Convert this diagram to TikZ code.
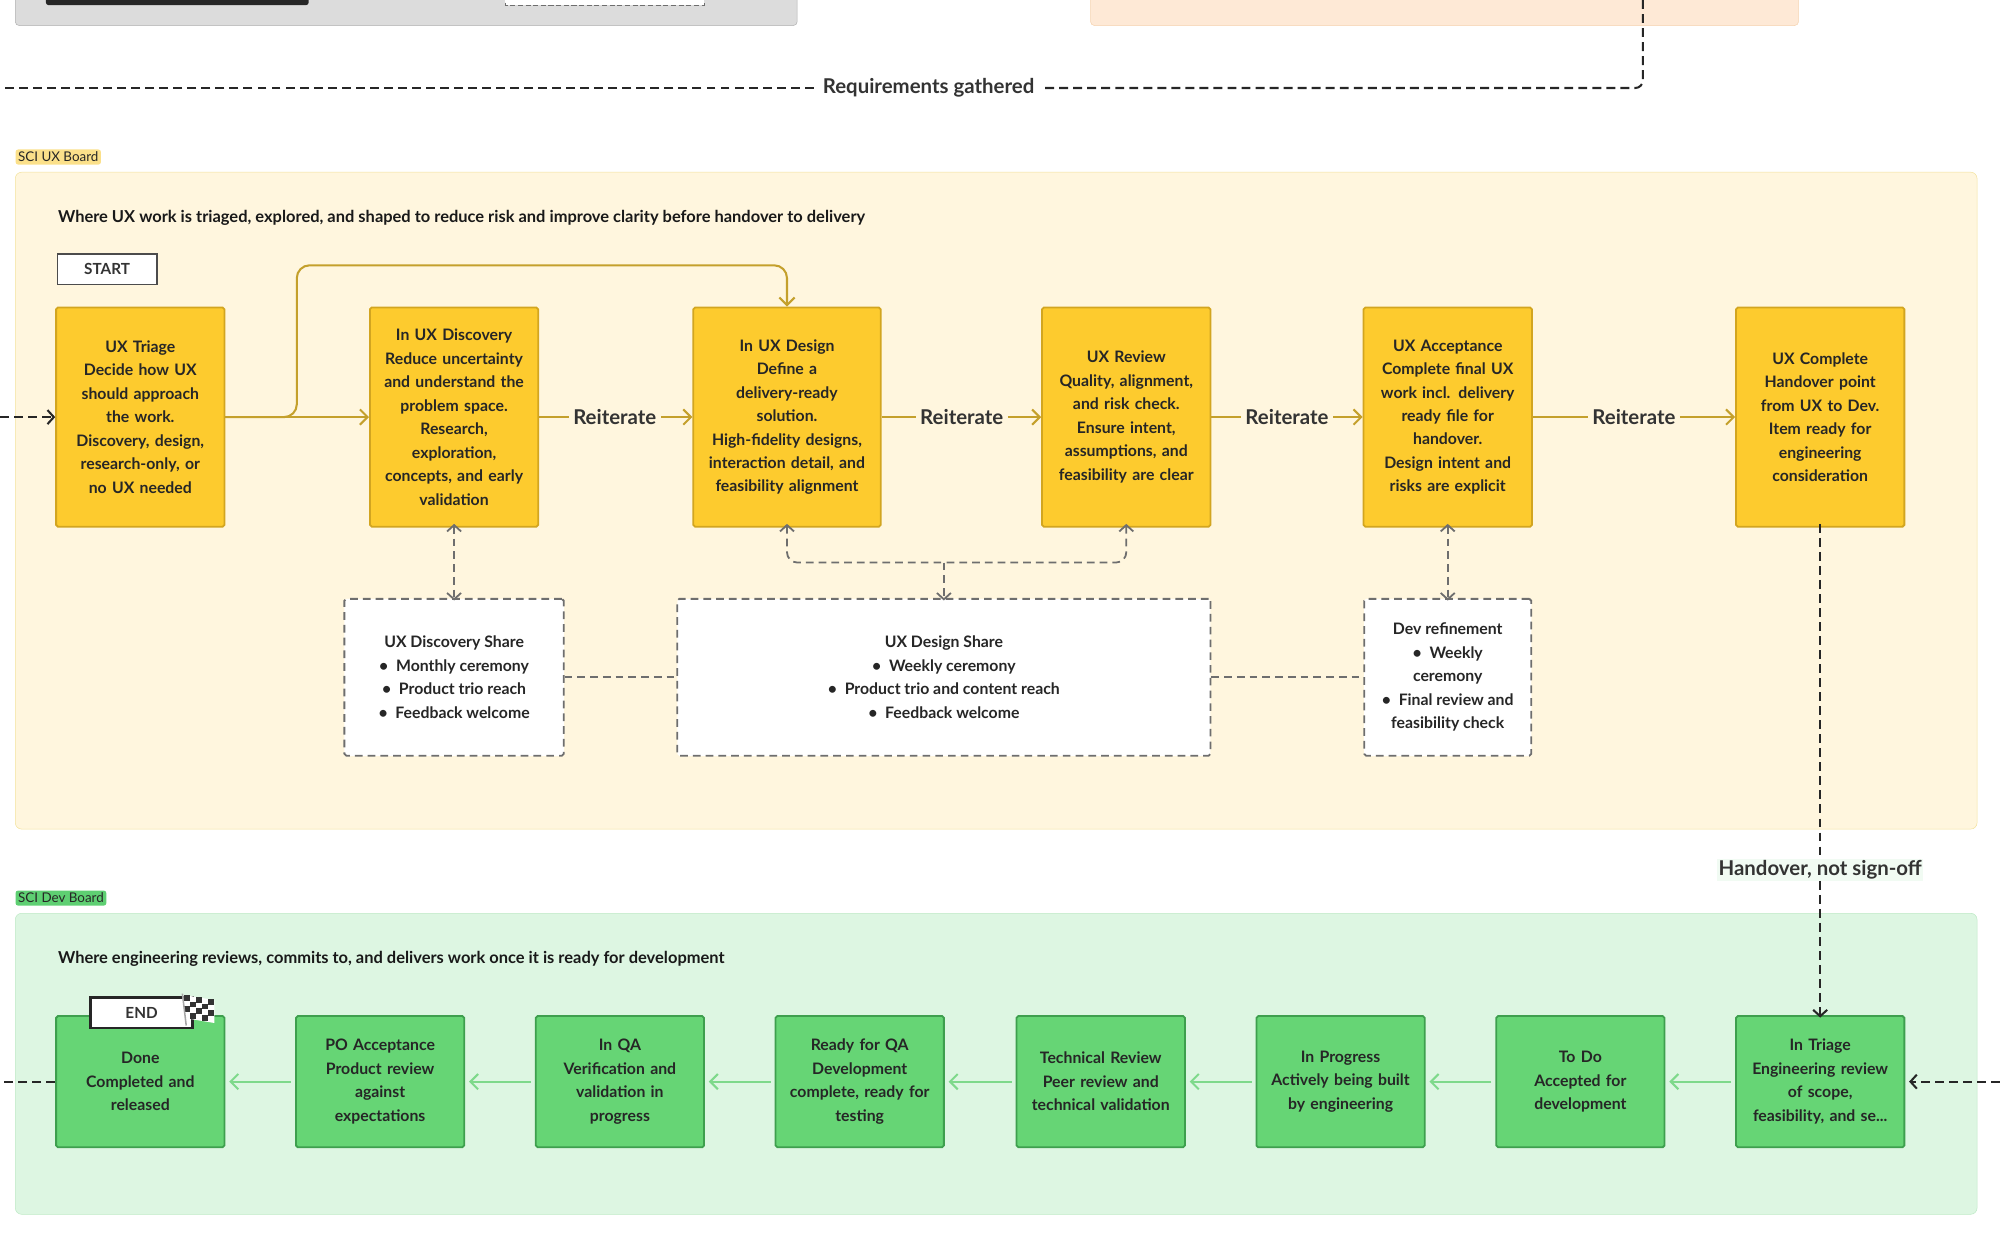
\documentclass[tikz,border=0pt]{standalone}
\usepackage{fontspec}
\setmainfont{Lato}
\usetikzlibrary{positioning}
\usetikzlibrary{arrows.meta}
\definecolor{uxfill}{HTML}{FDCB2E}
\definecolor{uxline}{HTML}{D2A520}
\definecolor{uxarrow}{HTML}{C4A02C}
\definecolor{uxpanel}{HTML}{FFF6DE}
\definecolor{uxpanelline}{HTML}{F3E29C}
\definecolor{uxtag}{HTML}{FBE08A}
\definecolor{devfill}{HTML}{66D575}
\definecolor{devline}{HTML}{3E9F4E}
\definecolor{devarrow}{HTML}{7ED98B}
\definecolor{devpanel}{HTML}{DDF6E2}
\definecolor{devpanelline}{HTML}{BDE9C5}
\definecolor{devtag}{HTML}{5ECF72}
\definecolor{greybox}{HTML}{DCDCDC}
\definecolor{peach}{HTML}{FEE9D6}
\definecolor{peachline}{HTML}{F5D2AE}
\definecolor{sharegrey}{HTML}{6E6E6E}

\begin{document}
\begin{tikzpicture}
[x=1pt,y=-1pt,
 font=\fontsize{12.4pt}{18.4pt}\selectfont\bfseries,
 ux/.style={shape=rectangle,draw=uxline,line width=1.4pt,fill=uxfill,rounded corners=1.5pt,
   minimum width=132pt,minimum height=172pt,text width=125pt,align=center,text=black!85},
 dev/.style={shape=rectangle,draw=devline,line width=1.4pt,fill=devfill,rounded corners=1.5pt,
   minimum width=132pt,minimum height=103pt,text width=125pt,align=center,text=black!85},
 share/.style={shape=rectangle,draw=sharegrey,line width=1.4pt,dash pattern=on 6pt off 4pt,fill=white,
   rounded corners=1.5pt,minimum height=123pt,align=center,text=black!85},
 uxedge/.style={draw=uxarrow,line width=1.6pt,-{Straight Barb[length=6pt,width=12pt]}},
 devedge/.style={draw=devarrow,line width=1.6pt,-{Straight Barb[length=6pt,width=12pt]}},
 shareedge/.style={draw=sharegrey,line width=1.4pt,dash pattern=on 6pt off 4pt},
 flowedge/.style={draw=black!85,line width=1.6pt,dash pattern=on 7pt off 4pt},
 tag/.style={shape=rectangle,rounded corners=2pt,font=\fontsize{10.5pt}{11pt}\selectfont,
   inner sep=2pt,anchor=north west,text=black!85},
 sub/.style={anchor=west,font=\fontsize{12.9pt}{13pt}\selectfont\bfseries,text=black!90},
 lbl/.style={font=\fontsize{16pt}{16pt}\selectfont\bfseries,text=black!80}]

\useasboundingbox (0,0) rectangle (1568,980);

% previous stage, cut at the top
\draw [greybox!80!black,fill=greybox,rounded corners=3pt] (12,-20) rectangle (625,20);
\fill [black!85,rounded corners=2pt] (36,-10) rectangle (242,4);
\draw [sharegrey,dash pattern=on 4pt off 2pt,fill=white] (396,-10) rectangle (552,4);
\draw [peachline,fill=peach,rounded corners=3pt] (855,-20) rectangle (1410,20);

\node (req) [lbl,inner xsep=7pt] at (728,69) {Requirements gathered};
\coordinate (reqtop) at (1288,0);
\coordinate (reqleft) at (0,69);
\draw [flowedge,rounded corners=6pt] (reqtop) |- (req.east);
\draw [flowedge] (req.west) -- (reqleft);

% UX board
\node (uxtag) [tag,fill=uxtag] at (12,117) {SCI UX Board};
\draw [uxpanelline,fill=uxpanel,rounded corners=5pt] (12,135) rectangle (1550,650);
\node (uxsub) [sub] at (42,171)
  {Where UX work is triaged, explored, and shaped to reduce risk and improve clarity before handover to delivery};
\node (start) [draw=black!70,line width=1.4pt,fill=white,minimum width=78pt,minimum height=24pt,
  font=\fontsize{12pt}{12pt}\selectfont\bfseries,text=black!80] at (84,211) {START};

\node (triage) [ux] at (110,327) {UX Triage\\Decide how UX\\should approach\\the work.\\Discovery, design,\\research-only, or\\no UX needed};
\node (disc) [ux] at (356,327) {In UX Discovery\\Reduce uncertainty\\and understand the\\problem space.\\Research,\\exploration,\\concepts, and early\\validation};
\node (design) [ux,minimum width=147pt,text width=140pt] at (617,327) {In UX Design\\Define a\\delivery-ready\\solution.\\High-fidelity designs,\\interaction detail, and\\feasibility alignment};
\node (review) [ux] at (883,327) {UX Review\\Quality, alignment,\\and risk check.\\Ensure intent,\\assumptions, and\\feasibility are clear};
\node (accept) [ux] at (1135,327) {UX Acceptance\\Complete final UX\\work incl. delivery\\ready file for\\handover.\\Design intent and\\risks are explicit};
\node (done) [ux] at (1427,327) {UX Complete\\Handover point\\from UX to Dev.\\Item ready for\\engineering\\consideration};

\coordinate (uxin) at (0,327);
\draw [flowedge,-{Straight Barb[length=5pt,width=11pt]}] (uxin) -- (triage);
\draw [uxedge] (triage) -- (disc);
\draw [uxedge,rounded corners=10pt] (triage.east) -- ++(56,0) |- (design.north |- 0,208) -- (design.north);
\node (r1) [lbl] at (482,327) {Reiterate};
\node (r2) [lbl] at (754,327) {Reiterate};
\node (r3) [lbl] at (1009,327) {Reiterate};
\node (r4) [lbl] at (1281,327) {Reiterate};
\draw [draw=uxarrow,line width=1.6pt] (disc) -- (r1);
\draw [uxedge] (r1) -- (design);
\draw [draw=uxarrow,line width=1.6pt] (design) -- (r2);
\draw [uxedge] (r2) -- (review);
\draw [draw=uxarrow,line width=1.6pt] (review) -- (r3);
\draw [uxedge] (r3) -- (accept);
\draw [draw=uxarrow,line width=1.6pt] (accept) -- (r4);
\draw [uxedge] (r4) -- (done);

\node (dshare) [share,minimum width=172pt] at (356,531)
  {UX Discovery Share\\\textbullet\ \ Monthly ceremony\\\textbullet\ \ Product trio reach\\\textbullet\ \ Feedback welcome};
\node (sshare) [share,minimum width=418pt] at (740,531)
  {UX Design Share\\\textbullet\ \ Weekly ceremony\\\textbullet\ \ Product trio and content reach\\\textbullet\ \ Feedback welcome};
\node (refine) [share,minimum width=131pt] at (1135,531)
  {Dev refinement\\\textbullet\ \ Weekly\\ceremony\\\textbullet\ \ Final review and\\feasibility check};

\draw [shareedge,{Straight Barb[length=5pt,width=11pt]}-{Straight Barb[length=5pt,width=11pt]}] ([yshift=3pt]disc.south) -- ([yshift=-2pt]dshare.north);
\draw [shareedge,{Straight Barb[length=5pt,width=11pt]}-{Straight Barb[length=5pt,width=11pt]}] ([yshift=3pt]accept.south) -- ([yshift=-2pt]refine.north);
\coordinate (meet) at (740,441);
\draw [shareedge,{Straight Barb[length=5pt,width=11pt]}-,rounded corners=8pt] ([yshift=3pt]design.south) |- (meet);
\draw [shareedge,{Straight Barb[length=5pt,width=11pt]}-,rounded corners=8pt] ([yshift=3pt]review.south) |- (meet);
\draw [shareedge,-{Straight Barb[length=5pt,width=11pt]}] (meet) -- ([yshift=-2pt]sshare.north);
\draw [shareedge] (dshare) -- (sshare);
\draw [shareedge] (sshare) -- (refine);

% Dev board
\node (devtag) [tag,fill=devtag] at (12,698) {SCI Dev Board};
\draw [devpanelline,fill=devpanel,rounded corners=5pt] (12,716) rectangle (1550,952);
\node (devsub) [sub] at (42,752)
  {Where engineering reviews, commits to, and delivers work once it is ready for development};

\node (d1) [dev] at (110,848) {Done\\Completed and\\released};
\node (d2) [dev] at (298,848) {PO Acceptance\\Product review\\against\\expectations};
\node (d3) [dev] at (486,848) {In QA\\Verification and\\validation in\\progress};
\node (d4) [dev] at (674,848) {Ready for QA\\Development\\complete, ready for\\testing};
\node (d5) [dev] at (863,848) {Technical Review\\Peer review and\\technical validation};
\node (d6) [dev] at (1051,848) {In Progress\\Actively being built\\by engineering};
\node (d7) [dev] at (1239,848) {To Do\\Accepted for\\development};
\node (d8) [dev] at (1427,848) {In Triage\\Engineering review\\of scope,\\feasibility, and se...};

\foreach \a/\b in {d8/d7,d7/d6,d6/d5,d5/d4,d4/d3,d3/d2,d2/d1}
  \draw [devedge] ([xshift=-3pt]\a.west) -- ([xshift=3pt]\b.east);

\node (handover) [lbl,fill=white!60!devpanel,inner sep=1pt] at (1427,682) {Handover, not sign-off};
\draw [flowedge] ([yshift=3pt]done.south) -- (handover);
\draw [flowedge,-{Straight Barb[length=5pt,width=11pt]}] (handover) -- ([yshift=-2pt]d8.north);
\coordinate (devin) at (1568,848);
\coordinate (devout) at (0,848);
\draw [flowedge,-{Straight Barb[length=5pt,width=11pt]}] (devin) -- ([xshift=3pt]d8.east);
\draw [flowedge] (d1) -- (devout);

% end marker with flag
\node (endbox) [draw=black!85,line width=1.8pt,fill=white,minimum width=80pt,minimum height=24pt,
  font=\fontsize{12pt}{12pt}\selectfont\bfseries,text=black!80] at (111,794) {END};
\fill [white] (144,780) -- (168,784) -- (168,802) -- (144,798) -- cycle;
\foreach \i in {0,...,4}
  \foreach \j in {0,...,3}{
    \pgfmathtruncatemacro\sq{mod(\i+\j,2)}
    \ifnum\sq=0
      \fill [black!80] ({144+4.8*\i},{780+4.5*\j+0.8*\i}) rectangle ++(4.8,4.5);
    \fi
  }
\draw [black!35,line width=1.2pt] (146,804) -- (143,779);
\end{tikzpicture}
\end{document}
